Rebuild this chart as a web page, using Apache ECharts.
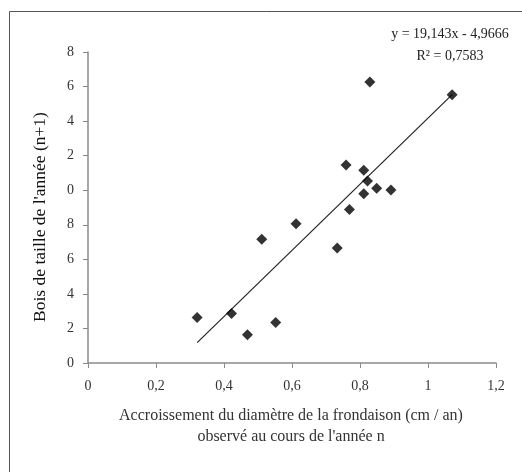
<!DOCTYPE html>
<html>
<head>
<meta charset="utf-8">
<script src="https://cdn.jsdelivr.net/npm/echarts@6/dist/echarts.min.js"></script>
<style>
  html, body { margin: 0; padding: 0; background: #fff; }
  #chart { width: 522px; height: 472px; }
</style>
</head>
<body>
<div id="chart"></div>
<script>
// accroissement (cm/an) observé l'année n
const diamGrowth = [0.321, 0.422, 0.469, 0.552, 0.511, 0.612, 0.733, 0.769,
  0.759, 0.811, 0.822, 0.811, 0.849, 0.891, 0.829, 1.071]
// bois de taille de l'année n+1
const pruningWood = [2.64, 2.86, 1.64, 2.35, 7.16, 8.06, 6.66, 8.89,
  11.46, 11.15, 10.53, 9.80, 10.11, 10.01, 16.26, 15.53]

// droite de régression (Excel)
const slope = 19.143
const intercept = -4.9666
const eqLines = ['y = 19,143x - 4,9666', 'R² = 0,7583']

const xTitle = 'Accroissement du diamètre de la frondaison (cm / an)\nobservé au cours de l\'année n'
const yTitle = 'Bois de taille de l\'année (n+1)'

const serif = '"Liberation Serif", "DejaVu Serif", serif'

const points = diamGrowth.map((x, i) => [x, pruningWood[i]])
const xMin = Math.min(...diamGrowth)
const xMax = Math.max(...diamGrowth)
const trend = [
  [xMin, slope * xMin + intercept],
  [xMax, slope * xMax + intercept]
]

const chart = echarts.init(document.getElementById('chart'))

const option = {
  animation: false,
  backgroundColor: '#fff',
  grid: {
    left: 88,
    right: 26,
    top: 52,
    bottom: 109
  },
  xAxis: {
    type: 'value',
    min: 0,
    max: 1.2,
    interval: 0.2,
    splitLine: { show: false },
    axisLine: { lineStyle: { color: '#8a8a8a', width: 1.5 } },
    axisTick: { show: true, length: 5, lineStyle: { color: '#8a8a8a' } },
    axisLabel: {
      margin: 16,
      color: '#333',
      fontFamily: serif,
      fontSize: 14,
      formatter: v => String(Math.round(v * 10) / 10).replace('.', ',')
    }
  },
  yAxis: {
    type: 'value',
    min: 0,
    max: 18,
    interval: 2,
    splitLine: { show: false },
    axisLine: { show: true, lineStyle: { color: '#8a8a8a', width: 1.5 } },
    axisTick: { show: true, length: 5, lineStyle: { color: '#8a8a8a' } },
    axisLabel: {
      margin: 14,
      color: '#333',
      fontFamily: serif,
      fontSize: 14,
      // les dizaines sont coupées dans l'original
      formatter: v => String(v % 10)
    }
  },
  graphic: [
    {
      type: 'rect',
      shape: { x: 9.5, y: 11.5, width: 700, height: 700 },
      style: { fill: 'none', stroke: '#555', lineWidth: 1 },
      silent: true
    },
    {
      type: 'text',
      x: 291,
      y: 405,
      style: {
        text: xTitle,
        font: '16px ' + serif,
        fill: '#333',
        align: 'center',
        verticalAlign: 'top',
        lineHeight: 21
      }
    },
    {
      type: 'text',
      x: 40,
      y: 217,
      rotation: Math.PI / 2,
      style: {
        text: yTitle,
        font: '17.5px ' + serif,
        fill: '#111',
        align: 'center',
        verticalAlign: 'middle'
      }
    },
    {
      type: 'text',
      x: 450,
      y: 34,
      style: {
        text: eqLines[0],
        font: '14px ' + serif,
        fill: '#222',
        align: 'center',
        verticalAlign: 'middle'
      }
    },
    {
      type: 'text',
      x: 450,
      y: 56,
      style: {
        text: eqLines[1],
        font: '14px ' + serif,
        fill: '#222',
        align: 'center',
        verticalAlign: 'middle'
      }
    }
  ],
  series: [
    {
      type: 'line',
      data: trend,
      symbol: 'none',
      lineStyle: { color: '#222', width: 1.2 },
      z: 1
    },
    {
      type: 'scatter',
      data: points,
      symbol: 'diamond',
      symbolSize: 11,
      itemStyle: { color: '#000' },
      z: 2
    }
  ]
}

chart.setOption(option)
</script>
</body>
</html>
